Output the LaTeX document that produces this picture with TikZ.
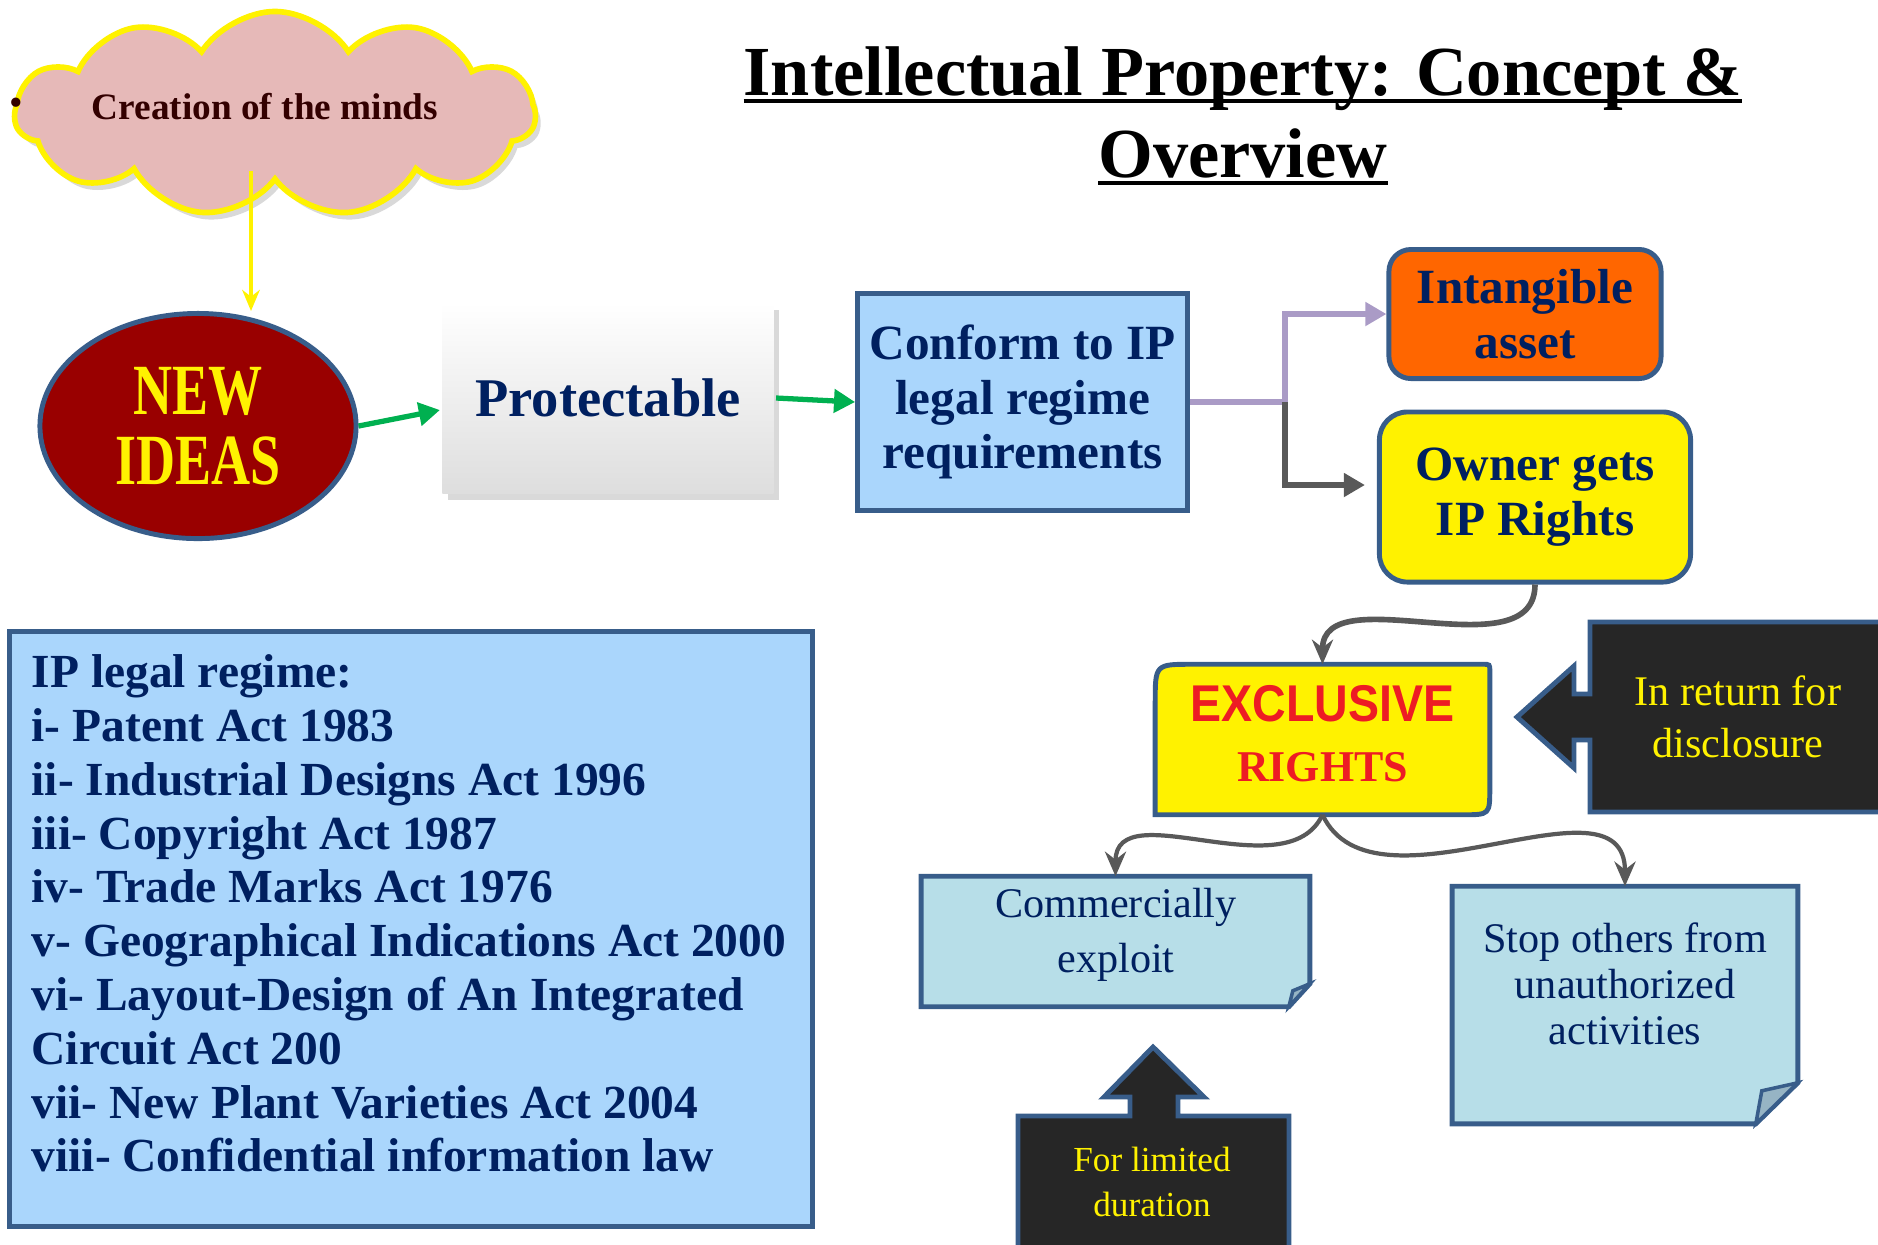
\documentclass[tikz,border=0pt]{standalone}
\usepackage{fontspec}
\setmainfont{Liberation Serif}
\newfontfamily\narrowserif[FakeStretch=0.75]{Liberation Serif}
\newfontfamily\narrowsans[FakeStretch=0.9]{Liberation Sans}
\newcommand{\lineunder}[1]{\setbox0=\hbox{#1}\rlap{\rule[-2.2pt]{\wd0}{1.1pt}}\box0}
\usepackage{xcolor}
\usepackage{tikz}
\usetikzlibrary{arrows.meta,calc,positioning,shapes.geometric,shapes.symbols,shadows}
\definecolor{navy}{RGB}{0,32,96}
\definecolor{boxblue}{RGB}{56,93,138}
\definecolor{skyfill}{RGB}{170,214,252}
\definecolor{notefill}{RGB}{183,222,232}
\definecolor{foldfill}{RGB}{150,180,196}
\definecolor{cloudpink}{RGB}{230,185,184}
\definecolor{ideared}{RGB}{153,0,0}
\definecolor{assetorange}{RGB}{255,102,0}
\definecolor{arrowgreen}{RGB}{0,176,80}
\definecolor{lavender}{RGB}{170,155,198}
\definecolor{darkgrey}{RGB}{89,89,89}
\definecolor{calloutfill}{RGB}{38,38,38}
\definecolor{rightsred}{RGB}{237,28,36}
\definecolor{mindbrown}{RGB}{51,0,0}
\tikzset{%
  arrow/.style={line width=1.5pt,-{Triangle[length=6pt,width=6.5pt]}},
  curve/.style={draw=darkgrey,line width=1.2pt,-{Stealth[length=7pt,width=6pt]}},
  box/.style={draw=boxblue,line width=1.4pt,text=navy,align=center},
  boldtext/.style={font=\bfseries\fontsize{14}{15.5}\selectfont},
  note/.style={draw=boxblue,line width=1.4pt,fill=notefill},
  fold/.style={draw=boxblue,line width=1pt,fill=foldfill},
  callout/.style={draw=boxblue,line width=1.4pt,fill=calloutfill},
  softshadow/.style={drop shadow={opacity=0.3,shadow xshift=1.5pt,shadow yshift=-2pt}},
}

\begin{document}
\begin{tikzpicture}[x=0.01cm,y=-0.01cm]
  \useasboundingbox (0,0) rectangle (1878,1244);

  \node[align=center,font=\bfseries\fontsize{20}{23.3}\selectfont] (title) at (1243,116)
    {\lineunder{Intellectual Property: Concept \&}\\\lineunder{Overview}};

  % cloud and new ideas
  \node[cloud,cloud puffs=11,cloud puff arc=115,cloud ignores aspect,minimum width=5.2cm,
    minimum height=2.05cm,draw=yellow,line width=1.6pt,fill=cloudpink,softshadow] (minds) at (275,114) {};
  \node[text=mindbrown,font=\bfseries\fontsize{10.6}{12}\selectfont] (mindstext) at (265,107) {Creation of the minds};
  \node[text=mindbrown,font=\fontsize{11}{12}\selectfont] (bullet) at (16,107) {\textbullet};
  \coordinate (drop) at (251,171);

  \node[ellipse,draw=boxblue,line width=1.4pt,fill=ideared,minimum width=3.16cm,minimum height=2.25cm,
    text=yellow,align=center,font=\narrowserif\bfseries\fontsize{20.5}{20}\selectfont] (ideas) at (198,426) {NEW\\IDEAS};
  \draw[yellow,line width=1.2pt,-{Stealth[length=6pt,width=5pt]}] (drop) -- (drop |- ideas.north);

  % main chain
  \node[box,draw=none,minimum width=3.31cm,minimum height=1.9cm,top color=white,bottom color=black!13,
    softshadow,font=\bfseries\fontsize{15.5}{17}\selectfont] (protect) at (608,398) {Protectable};
  \node[box,fill=skyfill,minimum width=3.3cm,minimum height=2.17cm,boldtext,right=0.79cm of protect,yshift=-0.04cm] (conform)
    {Conform to IP\\legal regime\\requirements};
  \draw[arrow,arrowgreen] (ideas.east) -- ([shift={(0,12)}]protect.west);
  \draw[arrow,arrowgreen] (protect.east) -- (conform.west);

  \node[box,fill=assetorange,rounded corners=0.22cm,minimum width=2.72cm,minimum height=1.29cm,boldtext] (asset)
    at (1525,314) {Intangible\\asset};
  \node[box,fill=yellow,rounded corners=0.28cm,minimum width=3.11cm,minimum height=1.7cm,boldtext] (owner)
    at (1535,497) {Owner gets\\IP Rights};
  \coordinate (split) at (conform.east -| 1285,0);
  \draw[arrow,lavender] (conform.east) -- (split) |- (asset.west);
  \draw[arrow,darkgrey] (split) |- ([shift={(-12,-12)}]owner.west);

  % exclusive rights
  \node[minimum width=3.33cm,minimum height=1.49cm] (excl) at (1322.5,739.5) {};
  \filldraw[draw=boxblue,fill=yellow,line width=1.4pt]
    ($(excl.south west)+(0,-112)$) .. controls (excl.north west) .. ($(excl.north west)+(37,0)$)
    -- ($(excl.north east)+(-7,0)$) .. controls (excl.north east) .. ($(excl.north east)+(0,7)$)
    -- ($(excl.south east)+(0,-27)$) .. controls (excl.south east) .. ($(excl.south east)+(-27,0)$)
    -- (excl.south west) -- cycle;
  \node[text=rightsred,align=center,font=\fontsize{12.5}{17}\selectfont] (excltext) at (1322.5,734)
    {{\narrowsans\bfseries\fontsize{14.7}{17}\selectfont EXCLUSIVE}\\{\bfseries RIGHTS}};
  \draw[curve,line width=1.6pt] (owner.south) to[out=-90,in=90] (excl.north);

  \draw[callout] (1590,622) -- (1890,622) -- (1890,812) -- (1590,812) -- (1590,740) -- (1574,740)
    -- (1574,768) -- (1517,717) -- (1574,666) -- (1574,694) -- (1590,694) -- cycle;
  \node[text=yellow,align=center,font=\fontsize{12}{14.8}\selectfont] (disclose) at (1738,717) {In return for\\disclosure};

  % notes
  \node[minimum width=3.87cm,minimum height=1.29cm] (exploit) at (1115.5,941.5) {};
  \filldraw[note] (exploit.north west) -- (exploit.north east) -- ($(exploit.south east)+(0,-23)$)
    -- ($(exploit.south east)+(-21,0)$) -- (exploit.south west) -- cycle;
  \filldraw[fold] ($(exploit.south east)+(0,-23)$) -- ($(exploit.south east)+(-17,-16)$)
    -- ($(exploit.south east)+(-21,0)$) -- cycle;
  \node[text=navy,align=center,font=\fontsize{12}{15.6}\selectfont] (exploittext) at (1116,935) {Commercially\\exploit};

  \node[minimum width=3.44cm,minimum height=2.36cm] (stop) at (1625,1005) {};
  \filldraw[note] (stop.north west) -- (stop.north east) -- ($(stop.south east)+(0,-41)$)
    -- ($(stop.south east)+(-42,0)$) -- (stop.south west) -- cycle;
  \filldraw[fold] ($(stop.south east)+(0,-41)$) -- ($(stop.south east)+(-36,-33)$)
    -- ($(stop.south east)+(-42,0)$) -- cycle;
  \node[text=navy,align=center,font=\fontsize{12}{13}\selectfont] (stoptext) at (1625,984)
    {Stop others from\\unauthorized\\activities};

  \draw[curve] (excl.south) to[out=-115,in=90] (exploit.north);
  \draw[curve] (excl.south) to[out=-65,in=90] (stop.north);

  \draw[callout] (1018,1256) -- (1018,1116) -- (1130,1116) -- (1130,1097) -- (1104,1097) -- (1153,1047)
    -- (1204,1097) -- (1178,1097) -- (1178,1116) -- (1289,1116) -- (1289,1256) -- cycle;
  \node[text=yellow,align=center,font=\fontsize{10}{12.8}\selectfont] (limited) at (1152,1182) {For limited\\duration};

  % legal regime list
  \node[draw=boxblue,line width=1.4pt,fill=skyfill,minimum width=8.02cm,minimum height=5.94cm] (legal) at (411,929) {};
  \node[anchor=north west,inner sep=0pt,align=left,text=navy,font=\bfseries\fontsize{13.5}{15.3}\selectfont] (acts)
    at (31,654) {IP legal regime:\\
    i- Patent Act 1983\\
    ii- Industrial Designs Act 1996\\
    iii- Copyright Act 1987\\
    iv- Trade Marks Act 1976\\
    v- Geographical Indications Act 2000\\
    vi- Layout-Design of An Integrated\\
    Circuit Act 200\\
    vii- New Plant Varieties Act 2004\\
    viii- Confidential information law};
\end{tikzpicture}
\end{document}
